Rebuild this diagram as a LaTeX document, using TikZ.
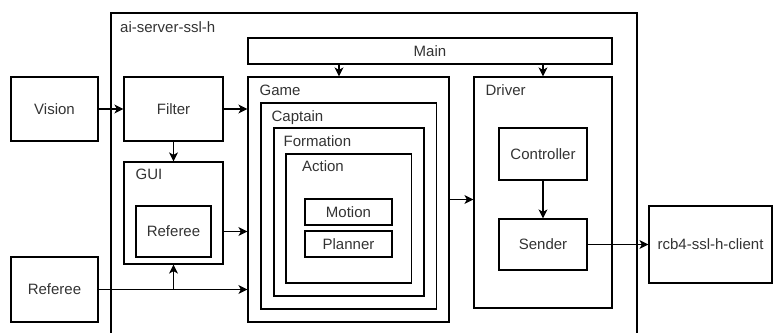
\documentclass[tikz,border=0pt]{standalone}
\usepackage{fontspec}
\setmainfont{Liberation Sans}
\usetikzlibrary{arrows.meta}
\tikzset{
  blk/.style={draw, line width=1.2pt, inner sep=0pt, text=black!80, font=\fontsize{15}{17}\selectfont},
  ttl/.style={anchor=base west, inner sep=0pt, text=black!80, font=\fontsize{15}{17}\selectfont},
  flow/.style={line width=1.2pt, -{Stealth[length=9pt,width=9pt,inset=2.5pt]}}
}
\begin{document}
\begin{tikzpicture}[x=1pt,y=-1pt]
\useasboundingbox (0,0) rectangle (773,332);
% server frame, runs off the bottom of the page
\draw[line width=1.2pt] (111,340) -- (111,13) -- (637,13) -- (637,340);
\node[ttl] (srvlbl) at (120,32) {ai-server-ssl-h};

\node[blk, minimum width=87, minimum height=64] (vision) at (54.5,109) {Vision};
\node[blk, minimum width=87, minimum height=65] (referee) at (54.5,289.5) {Referee};
\node[blk, minimum width=99, minimum height=64] (filter) at (173.5,109) {Filter};
\node[blk, minimum width=99, minimum height=102] (gui) at (173.5,213) {};
\node[ttl] (guilbl) at ([shift={(12,18.3)}]gui.north west) {GUI};
\node[blk, minimum width=75, minimum height=51] (gref) at (173.5,231.5) {Referee};

\node[blk, minimum width=364, minimum height=26] (mainbox) at (430,51) {Main};

% nested game boxes
\node[blk, minimum width=201, minimum height=245] (game) at (348.5,199.5) {};
\node[ttl] (gamelbl) at ([shift={(12,19.3)}]game.north west) {Game};
\node[blk, minimum width=175.5, minimum height=206] (captain) at (348.75,206) {};
\node[ttl] (captlbl) at ([shift={(11,19.3)}]captain.north west) {Captain};
\node[blk, minimum width=150, minimum height=168] (formation) at (349,212) {};
\node[ttl] (formlbl) at ([shift={(10,19.3)}]formation.north west) {Formation};
\node[blk, minimum width=125.5, minimum height=129] (action) at (348.75,218.5) {};
\node[ttl] (actlbl) at ([shift={(16.5,18.5)}]action.north west) {Action};
\node[blk, minimum width=87, minimum height=26] (motion) at (348.5,212) {Motion};
\node[blk, minimum width=87, minimum height=26] (planner) at (348.5,244) {Planner};

\node[blk, minimum width=138, minimum height=231] (driver) at (543,192.5) {};
\node[ttl] (drvlbl) at ([shift={(12,19.3)}]driver.north west) {Driver};
\node[blk, minimum width=88, minimum height=52] (controller) at (543,154) {Controller};
\node[blk, minimum width=88, minimum height=51] (sender) at (543,244.5) {Sender};

\node[blk, minimum width=123, minimum height=77] (client) at (710.5,244.5) {rcb4-ssl-h-client};

\draw[flow] (vision) -- (filter);
\draw[flow] (filter) -- (filter -| game.west);
\draw[flow] (filter) -- (gui);
\draw[flow] (gref.east -| gui.east) -- (gref.east -| game.west);
\draw[flow] (referee) -- (referee -| game.west);
\draw[flow] (referee -| gui.south) -- (gui.south);
\draw[flow] ([xshift=-91pt]mainbox.south) -- ([xshift=-9.5pt]game.north);
\draw[flow] (mainbox.south -| driver.north) -- (driver.north);
\draw[flow] (game.east) -- (game.east -| driver.west);
\draw[flow] (controller) -- (sender);
\draw[flow] (sender) -- (client);
\end{tikzpicture}
\end{document}
